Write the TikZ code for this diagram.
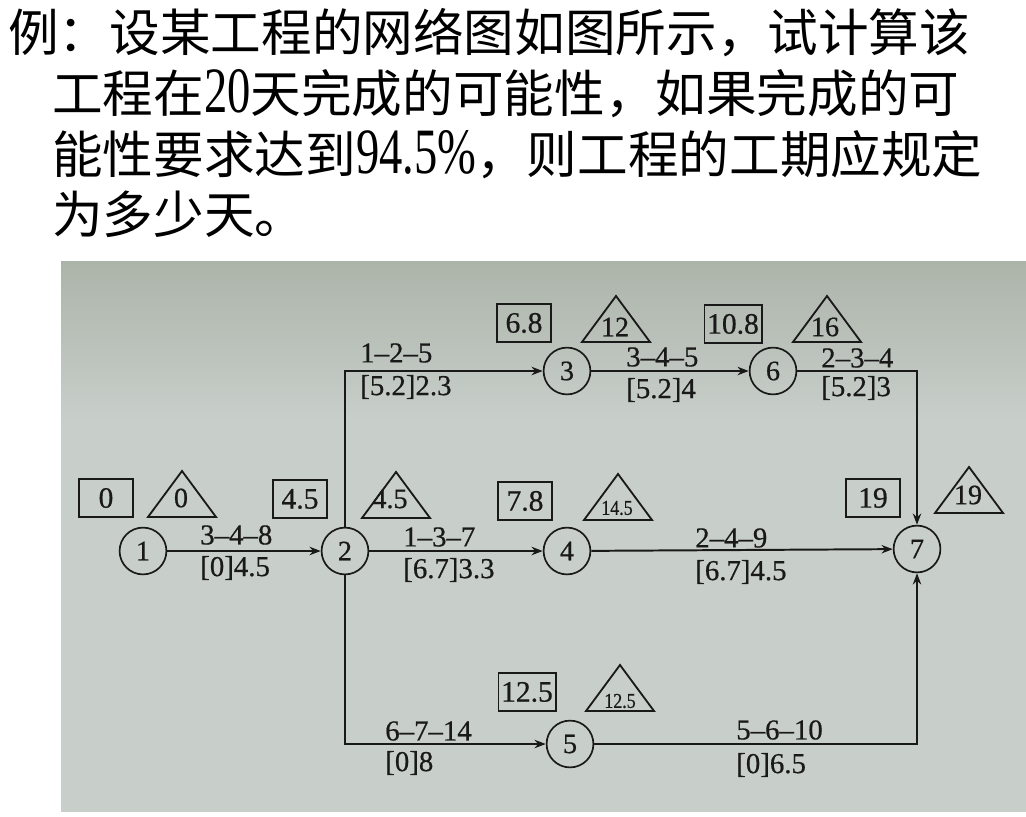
\documentclass[tikz,border=0pt]{standalone}
\usepackage{fontspec}
\setmainfont{Liberation Serif}
\newfontfamily\cjk{Noto Sans CJK SC}
\newfontfamily\qnum[FakeStretch=0.72]{Liberation Serif}
\newfontfamily\fignum[FakeBold=0.6,Ligatures=TeX]{Liberation Serif}
\newfontfamily\trinum[FakeBold=0.6,FakeStretch=0.85]{Liberation Serif}
\usetikzlibrary{arrows.meta}

\definecolor{photo}{RGB}{200,206,201}
\definecolor{phototop}{RGB}{172,180,170}
\definecolor{ink}{RGB}{25,25,25}

\newcommand{\qsize}{\fontsize{36}{36}\selectfont}
\newcommand{\qdigits}[1]{{\qnum\fontsize{46}{46}\selectfont #1}}

\begin{document}
\begin{tikzpicture}[x=0.025cm,y=-0.025cm,
 event/.style={draw=ink,circle,line width=1.2pt,minimum size=1.17cm,inner sep=0pt,
   font=\fignum\fontsize{20}{20}\selectfont,text=ink},
 est/.style={draw=ink,line width=1.2pt,minimum width=1.35cm,minimum height=0.95cm,
   inner sep=2pt,font=\fignum\fontsize{21}{21}\selectfont,text=ink},
 lab/.style={anchor=west,inner sep=0pt,font=\fignum\fontsize{20.5}{20.5}\selectfont,text=ink},
 trilab/.style={inner sep=0pt,font=\fignum\fontsize{20}{20}\selectfont,text=ink},
 smalltri/.style={trilab,font=\trinum\fontsize{15}{15}\selectfont},
 act/.style={draw=ink,line width=1.4pt,-{Stealth[length=8pt,width=6pt]}},
 tri/.pic={\draw[ink,line width=1.3pt] (-34,0) -- (34,0) -- (0,-46) -- cycle;},
 qline/.style={anchor=base west,inner sep=0pt,font=\qsize}]

\useasboundingbox (0,0) rectangle (1026,816);
\fill[white] (0,0) rectangle (1026,816);
% 照片背景
\fill[photo] (61,261) rectangle (1026,812);
\shade[top color=phototop,bottom color=photo] (61,261) rectangle (1026,420);

% 题目
\node[qline] (q1) at (8,51) {\cjk 例：设某工程的网络图如图所示，试计算该};
\node[qline] (q2) at (52,112) {\cjk 工程在\qdigits{20}天完成的可能性，如果完成的可};
\node[qline] (q3) at (52,173) {\cjk 能性要求达到\qdigits{94.5\%}，则工程的工期应规定};
\node[qline] (q4) at (52,233) {\cjk 为多少天。};

% 节点
\node[event] (n1) at (143,551) {1};
\node[event] (n2) at (345,551) {2};
\node[event] (n3) at (567,371) {3};
\node[event] (n6) at (773,371) {6};
\node[event] (n4) at (567,551) {4};
\node[event] (n5) at (570,744) {5};
\node[event] (n7) at (917,549) {7};

% 工作
\draw[act] (n1) -- (n2);
\draw[act] (n2) |- (n3);
\draw[act] (n2) -- (n4);
\draw[act] (n2) |- (n5);
\draw[act] (n3) -- (n6);
\draw[act] (n6) -| (n7);
\draw[act] (n4) -- (n7);
\draw[act] (n5) -| (n7);

% 工作时间
\node[lab] (a12) at (200,535) {3--4--8};
\node[lab] (b12) at (200,568) {[0]4.5};
\node[lab] (a23) at (360,353) {1--2--5};
\node[lab] (b23) at (360,387) {[5.2]2.3};
\node[lab] (a24) at (403,537) {1--3--7};
\node[lab] (b24) at (403,570) {[6.7]3.3};
\node[lab] (a36) at (626,357) {3--4--5};
\node[lab] (b36) at (626,390) {[5.2]4};
\node[lab] (a67) at (821,358) {2--3--4};
\node[lab] (b67) at (821,388) {[5.2]3};
\node[lab] (a47) at (695,538) {2--4--9};
\node[lab] (b47) at (695,572) {[6.7]4.5};
\node[lab] (a25) at (385,731) {6--7--14};
\node[lab] (b25) at (385,763) {[0]8};
\node[lab] (a57) at (736,730) {5--6--10};
\node[lab] (b57) at (736,765) {[0]6.5};

% 最早时间
\node[est] (e1) at (106,498) {0};
\node[est] (e2) at (300,499) {4.5};
\node[est] (e3) at (524,323) {6.8};
\node[est] (e6) at (733,324) {10.8};
\node[est] (e4) at (525,501) {7.8};
\node[est] (e7) at (873,498) {19};
\node[est] (e5) at (527,692) {12.5};

% 最迟时间
\pic at (182,517) {tri};
\node[trilab] (l1) at (181,498) {0};
\pic at (396,518) {tri};
\node[trilab] (l2) at (390,499) {4.5};
\pic at (616,342) {tri};
\node[trilab] (l3) at (615,327) {12};
\pic at (827,342) {tri};
\node[trilab] (l6) at (825,327) {16};
\pic at (618,520) {tri};
\node[smalltri] (l4) at (617,508) {14.5};
\pic at (969,513) {tri};
\node[trilab] (l7) at (968,495) {19};
\pic at (620,711) {tri};
\node[smalltri] (l5) at (620,701) {12.5};
\end{tikzpicture}
\end{document}
